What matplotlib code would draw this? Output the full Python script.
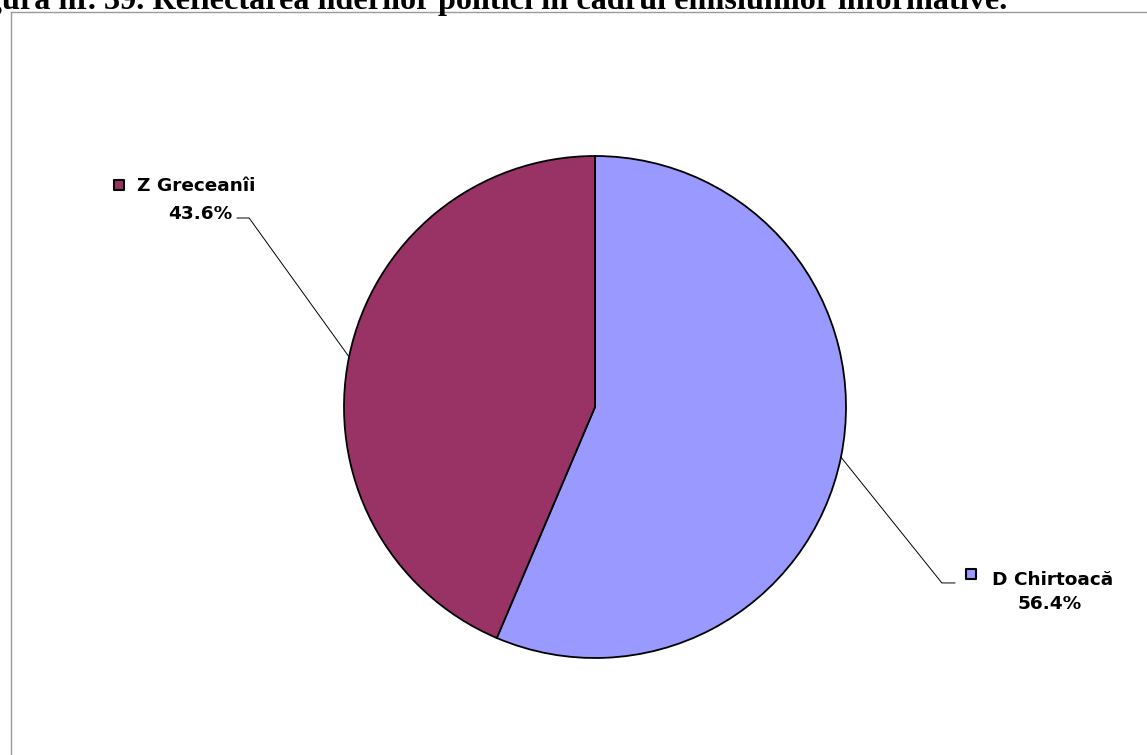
import numpy as np
import matplotlib
matplotlib.use('Agg')
import matplotlib.pyplot as plt
from matplotlib.lines import Line2D

# date
nume = ['D Chirtoacă', 'Z Greceanîi']
procente = [56.4, 43.6]
culori = ['#9999FF', '#993366']
titlu = 'Figura nr. 39. Reflectarea liderilor politici în cadrul emisiunilor informative.'

W, H = 1147, 755
fig = plt.figure(figsize=(W / 100, H / 100), dpi=100)

# chenarul graficului
gri = '#9a9a9a'
fig.add_artist(Line2D([11 / W, 1], [1 - 11.5 / H, 1 - 11.5 / H], color=gri, lw=1))
fig.add_artist(Line2D([11 / W, 11 / W], [0, 1 - 11.5 / H], color=gri, lw=1))

# titlul (taiat sus, ca in original)
fig.text(1007 / W, 1 - 9 / H, titlu, ha='right', va='baseline',
         family='Liberation Serif', fontweight='bold', fontsize=23.2)

ax = fig.add_axes([0, 0, 1, 1])
# centru la (595, 407) px, raza 251 px
cx, cy, r = 595, 407, 251
wedges, _ = ax.pie(procente, colors=culori, startangle=90, counterclock=False,
                   wedgeprops=dict(edgecolor='black', linewidth=1.3))
ax.set_xlim(-cx / r, (W - cx) / r)
ax.set_ylim(-(H - cy) / r, cy / r)
ax.set_aspect('auto')
ax.axis('off')

# pozitii etichete
etichete = {
    'D Chirtoacă': dict(cot=(1.382, -0.701), capat=1.434, patrat=(1.498, -0.665),
                       text=(1.582, -0.709), proc=(1.811, -0.805)),
    'Z Greceanîi': dict(cot=(-1.378, 0.753), capat=-1.426, patrat=(-1.896, 0.884),
                       text=(-1.825, 0.861), proc=(-1.572, 0.749)),
}

for w, n, p, c in zip(wedges, nume, procente, culori):
    th = np.deg2rad((w.theta1 + w.theta2) / 2)
    x0, y0 = np.cos(th), np.sin(th)
    e = etichete[n]
    ax.plot([x0, e['cot'][0], e['capat']], [y0, e['cot'][1], e['cot'][1]],
            color='black', lw=0.7)
    ax.scatter([e['patrat'][0]], [e['patrat'][1]], marker='s', s=60,
               color=c, edgecolor='black', linewidth=1.5, zorder=3)
    ax.text(e['text'][0], e['text'][1], n, ha='left', va='baseline',
            fontsize=13.3, fontweight='bold', family='DejaVu Sans')
    ax.text(e['proc'][0], e['proc'][1], f'{p:.1f}%', ha='center', va='baseline',
            fontsize=13.3, fontweight='bold', family='DejaVu Sans')

fig.savefig('out.png', dpi=100)
